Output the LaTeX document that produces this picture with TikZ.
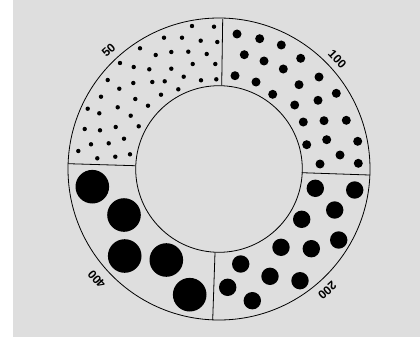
\documentclass[tikz,border=0pt]{standalone}
\usepackage{fontspec}
\setsansfont{Liberation Sans}
\definecolor{paper}{RGB}{222,222,222}
\tikzset{
  ring/.style={black, line width=0.8pt},
  dotmark/.style={fill=black},
  ringlabel/.style={font=\sffamily\bfseries\fontsize{12}{14}\selectfont, inner sep=0pt}
}
\begin{document}
\begin{tikzpicture}[x=1pt, y=-1pt]
    % Page and grey card
    \useasboundingbox (0,0) rectangle (420,337);
    \fill[white] (0,0) rectangle (420,337);
    \fill[paper] (13,0) rectangle (420,337);

    % Ring
    \coordinate (centre) at (219,169);
    \draw[ring] (centre) circle (151pt);
    \draw[ring] (centre) circle (83.3pt);

    % Dividers
    \draw[ring] (222.7,19) -- (221.7,85.3);
    \draw[ring] (301.7,172.7) -- (369.3,175);
    \draw[ring] (215,252.7) -- (212.7,320);
    \draw[ring] (68.3,163.7) -- (135,165.7);

    % 50
    \foreach \px/\py in {192/26, 214/26.7, 164/37.7, 182/37.7, 200.7/40.7, 217.3/42,
        140/48.3, 155.7/55, 171.3/52, 188.3/51.7, 206.7/54,
        120/63, 133.7/67, 149.3/69.3, 171.3/68.7, 192.7/64, 215.3/64,
        107.7/80, 133.3/83, 152.3/82, 164.7/81.3, 183.7/76.7, 201/80.3, 216.3/79.3,
        119.3/88.7, 178.3/89.3, 101/96.7, 135.3/99, 161/94.7, 148/105.7,
        87.7/108.7, 99.3/113.3, 117.7/107.3, 130.7/115.7,
        84.7/129, 100/130.3, 115.7/127, 138.7/126.3,
        91/144.3, 108.7/143.3, 124/138.7,
        78.3/151, 97.3/158.3, 115.3/156.7, 130/154.3}
        \fill[dotmark] (\px,\py) circle (2.2pt);

    % 100
    \foreach \px/\py in {237/34, 259.7/38.7, 281.3/45, 244.3/54.7, 264/61, 300.7/58.3,
        283.3/69, 235/75.7, 256/82, 319/77, 272.7/94.3, 299/84.7, 336.3/93.3,
        294.7/105, 318/100.3, 303.3/122, 324/120.7, 346.3/120.3,
        306.7/144.7, 326.7/139.7, 357.7/141.3, 340/155, 320/164, 358.3/163.3}
        \fill[dotmark] (\px,\py) circle (4.5pt);

    % 200
    \foreach \px/\py in {315.3/188.3, 354.7/190, 334.7/210, 301.7/219.3, 338.7/240,
        281/247.3, 311.3/248.7, 240.7/264, 270/276.3, 300/280.7, 227.7/287.3, 252.3/300.7}
        \fill[dotmark] (\px,\py) circle (8.7pt);

    % 400
    \foreach \px/\py in {92.3/186.7, 124/215, 124.7/256, 166.3/260, 189.7/294.7}
        \fill[dotmark] (\px,\py) circle (16.8pt);

    % Labels
    \node[ringlabel, rotate=42] (lab50) at (108.5,50) {50};
    \node[ringlabel, rotate=-47] (lab100) at (337.3,59.3) {100};
    \node[ringlabel, rotate=-138] (lab200) at (327.3,290.7) {200};
    \node[ringlabel, rotate=132] (lab400) at (96.7,279.3) {400};
\end{tikzpicture}
\end{document}
